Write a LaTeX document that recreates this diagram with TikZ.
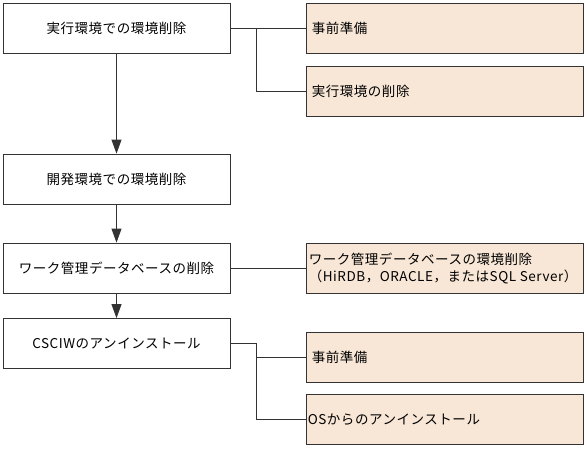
\documentclass[tikz,border=0pt]{standalone}
\usepackage{fontspec}
\setmainfont{Noto Sans CJK JP}[LetterSpace=4]
\usetikzlibrary{arrows.meta}
\definecolor{beige}{HTML}{F8E7D6}
\tikzset{
  mainbox/.style={draw=black!80, line width=0.8pt, fill=white, minimum width=227pt, minimum height=50pt, inner sep=0pt, font=\fontsize{13.5}{16}\selectfont},
  subbox/.style={draw=black!80, line width=0.8pt, fill=beige, minimum width=277pt, minimum height=50pt, inner sep=0pt},
  subtext/.style={anchor=west, inner sep=0pt, align=left, font=\fontsize{13.5}{17}\selectfont},
  flow/.style={line width=0.8pt, draw=black!80, -{Triangle[width=10pt,length=14pt]}},
  link/.style={line width=0.8pt, draw=black!80}
}
\begin{document}
\begin{tikzpicture}[x=1pt,y=-1pt]
\useasboundingbox (0,0) rectangle (587,448);
% main column
\node[mainbox] (m1) at (116.5,28) {実行環境での環境削除};
\node[mainbox] (m2) at (116.5,179) {開発環境での環境削除};
\node[mainbox] (m3) at (116.5,268) {ワーク管理データベースの削除};
\node[mainbox] (m4) at (116.5,343.5) {CSCIWのアンインストール};
% right column
\node[subbox] (s1) at (444.5,28) {};
\node[subtext] (t1) at ([xshift=6pt]s1.west) {事前準備};
\node[subbox] (s2) at (444.5,91.5) {};
\node[subtext] (t2) at ([xshift=6pt]s2.west) {実行環境の削除};
\node[subbox] (s3) at (444.5,268) {};
\node[subtext] (t3) at ([xshift=3pt]s3.west) {ワーク管理データベースの環境削除\\（HiRDB，ORACLE，またはSQL Server）};
\node[subbox] (s4) at (444.5,357) {};
\node[subtext] (t4) at ([xshift=6pt]s4.west) {事前準備};
\node[subbox] (s5) at (444.5,419.5) {};
\node[subtext] (t5) at ([xshift=2pt]s5.west) {OSからのアンインストール};
% flow arrows
\draw[flow] (m1) -- (m2);
\draw[flow] (m2) -- (m3);
\draw[flow] (m3) -- (m4);
% links
\coordinate (b1) at (256,28);
\coordinate (b2) at (256,357);
\draw[link] (m1.east) -- (s1.west);
\draw[link] (b1) |- (s2.west);
\draw[link] (m3.east) -- (s3.west);
\draw[link] (m4.east) -- (b2 |- m4.east) -- (b2) -- (s4.west);
\draw[link] (b2 |- m4.east) |- (s5.west);
\end{tikzpicture}
\end{document}
